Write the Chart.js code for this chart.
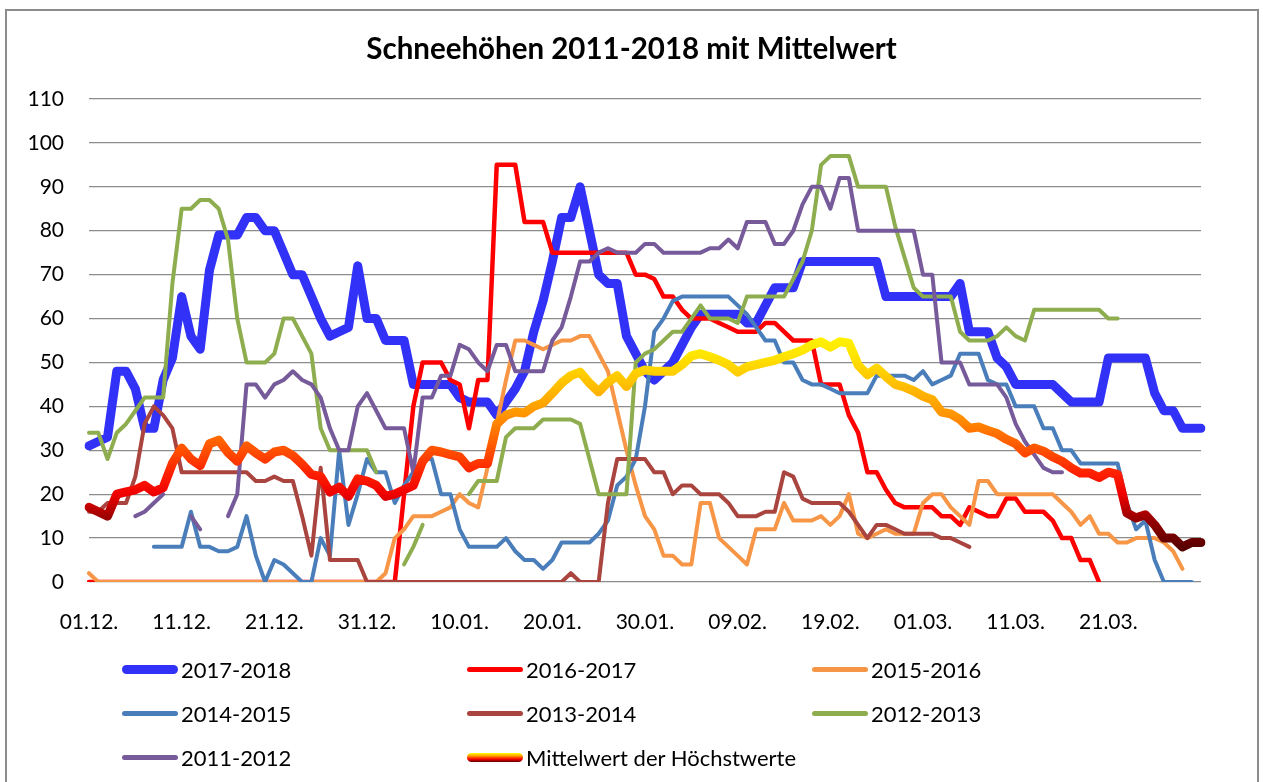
<!DOCTYPE html>
<html>
<head>
<meta charset="utf-8">
<script src="https://cdn.jsdelivr.net/npm/chart.js@4.4.1/dist/chart.umd.min.js"></script>
<style>
  body { margin: 0; background: #fff; font-family: Lato, "Open Sans", sans-serif; }
  #frame { position: absolute; left: 5px; top: 9px; width: 1250px; height: 800px; border: 2px solid #8c8c8c; border-bottom: none; }
  #title { position: absolute; left: 0; top: 30px; width: 1263px; text-align: center; font: bold 29.5px Lato, sans-serif; color: #000; }
  #chart { position: absolute; left: 0; top: 0; }
  .item { position: absolute; height: 24px; display: flex; align-items: center; font: 22px Lato, sans-serif; color: #000; }
  .swatch { width: 56px; border-radius: 5px; margin-right: 3px; }
</style>
</head>
<body>
<div id="frame"></div>
<canvas id="chart" width="1263" height="782"></canvas>
<div id="title">Schneehöhen 2011-2018 mit Mittelwert</div>
<div id="legend"></div>
<script>
// Tage 01.12. - 31.03.
const monthDays = [['12', 31], ['01', 31], ['02', 28], ['03', 31]];
const days = [];
monthDays.forEach(([m, n]) => {
    for (let d = 1; d <= n; d++) days.push(String(d).padStart(2, '0') + '.' + m + '.');
});
const tickLabels = ['01.12.', '11.12.', '21.12.', '31.12.', '10.01.', '20.01.', '30.01.', '09.02.', '19.02.', '01.03.', '11.03.', '21.03.'];

const s2017 = [31, 32, 33, 48, 48, 44, 35, 35, 46, 51, 65, 56, 53, 71, 79, 79, 79, 83, 83, 80,
    80, 75, 70, 70, 65, 60, 56, 57, 58, 72, 60, 60, 55, 55, 55, 45, 45, 45, 45, 45,
    42, 41, 41, 41, 38, 41, 44, 48, 57, 64, 73, 83, 83, 90, 80, 70, 68, 68, 56, 52,
    48, 46, 48, 50, 54, 58, 61, 61, 61, 61, 61, 59, 59, 63, 67, 67, 67, 73, 73, 73,
    73, 73, 73, 73, 73, 73, 65, 65, 65, 65, 65, 65, 65, 65, 68, 57, 57, 57, 51, 49,
    45, 45, 45, 45, 45, 43, 41, 41, 41, 41, 51, 51, 51, 51, 51, 43, 39, 39, 35, 35, 35];
const s2016 = [0, 0, 0, 0, 0, 0, 0, 0, 0, 0, 0, 0, 0, 0, 0, 0, 0, 0, 0, 0,
    0, 0, 0, 0, 0, 0, 0, 0, 0, 0, 0, 0, 0, 0, 20, 40, 50, 50, 50, 46,
    45, 35, 46, 46, 95, 95, 95, 82, 82, 82, 75, 75, 75, 75, 75, 75, 75, 75, 75, 70,
    70, 69, 65, 65, 62, 60, 60, 60, 59, 58, 57, 57, 57, 59, 59, 57, 55, 55, 55, 45,
    45, 45, 38, 34, 25, 25, 21, 18, 17, 17, 17, 17, 15, 15, 13, 17, 16, 15, 15, 19,
    19, 16, 16, 16, 14, 10, 10, 5, 5, 0, null, null, null, null, null, null, null, null, null, null, null];
const s2015 = [2, 0, 0, 0, 0, 0, 0, 0, 0, 0, 0, 0, 0, 0, 0, 0, 0, 0, 0, 0,
    0, 0, 0, 0, 0, 0, 0, 0, 0, 0, 0, 0, 2, 10, 12, 15, 15, 15, 16, 17,
    20, 18, 17, 26, 36, 46, 55, 55, 54, 53, 54, 55, 55, 56, 56, 52, 48, 39, 30, 22,
    15, 12, 6, 6, 4, 4, 18, 18, 10, 8, 6, 4, 12, 12, 12, 18, 14, 14, 14, 15,
    13, 15, 20, 11, 10, 11, 12, 11, 11, 11, 18, 20, 20, 17, 15, 13, 23, 23, 20, 20,
    20, 20, 20, 20, 20, 18, 16, 13, 15, 11, 11, 9, 9, 10, 10, 10, 9, 7, 3, null, null];
const s2014 = [null, null, null, null, null, null, null, 8, 8, 8, 8, 16, 8, 8, 7, 7, 8, 15, 6, 0,
    5, 4, 2, 0, 0, 10, 6, 30, 13, 20, 28, 25, 25, 18, 22, 25, 28, 28, 20, 20,
    12, 8, 8, 8, 8, 10, 7, 5, 5, 3, 5, 9, 9, 9, 9, 11, 14, 22, 24, 28,
    40, 57, 60, 64, 65, 65, 65, 65, 65, 65, 63, 61, 58, 55, 55, 50, 50, 46, 45, 45,
    44, 43, 43, 43, 43, 47, 47, 47, 47, 46, 48, 45, 46, 47, 52, 52, 52, 46, 45, 45,
    40, 40, 40, 35, 35, 30, 30, 27, 27, 27, 27, 27, 18, 12, 14, 5, 0, 0, 0, 0, null];
const s2013 = [16, 16, 18, 18, 18, 24, 36, 40, 38, 35, 25, 25, 25, 25, 25, 25, 25, 25, 23, 23,
    24, 23, 23, 15, 6, 26, 5, 5, 5, 5, 0, 0, 0, 0, 0, 0, 0, 0, 0, 0,
    0, 0, 0, 0, 0, 0, 0, 0, 0, 0, 0, 0, 2, 0, 0, 0, 18, 28, 28, 28,
    28, 25, 25, 20, 22, 22, 20, 20, 20, 18, 15, 15, 15, 16, 16, 25, 24, 19, 18, 18,
    18, 18, 16, 13, 10, 13, 13, 12, 11, 11, 11, 11, 10, 10, 9, 8, null, null, null, null,
    null, null, null, null, null, null, null, null, null, null, null, null, null, null, null, null, null, null, null, null, null];
const s2012 = [34, 34, 28, 34, 36, 39, 42, 42, 42, 68, 85, 85, 87, 87, 85, 78, 60, 50, 50, 50,
    52, 60, 60, 56, 52, 35, 30, 30, 30, 30, 30, 25, null, null, 4, 8, 13, null, null, null,
    null, 20, 23, 23, 23, 33, 35, 35, 35, 37, 37, 37, 37, 36, 28, 20, 20, 20, 20, 50,
    52, 53, 55, 57, 57, 60, 63, 60, 60, 60, 59, 65, 65, 65, 65, 65, 69, 73, 80, 95,
    97, 97, 97, 90, 90, 90, 90, 81, 74, 67, 65, 65, 65, 65, 57, 55, 55, 55, 56, 58,
    56, 55, 62, 62, 62, 62, 62, 62, 62, 62, 60, 60, null, null, null, null, null, null, null, null, null];
const s2011 = [null, null, null, null, null, 15, 16, 18, 20, null, null, 15, 12, null, null, 15, 20, 45, 45, 42,
    45, 46, 48, 46, 45, 42, 35, 30, 30, 40, 43, 39, 35, 35, 35, 25, 42, 42, 47, 47,
    54, 53, 50, 48, 54, 54, 48, 48, 48, 48, 55, 58, 65, 73, 73, 75, 76, 75, 75, 75,
    77, 77, 75, 75, 75, 75, 75, 76, 76, 78, 76, 82, 82, 82, 77, 77, 80, 86, 90, 90,
    85, 92, 92, 80, 80, 80, 80, 80, 80, 80, 70, 70, 50, 50, 50, 45, 45, 45, 45, 42,
    36, 32, 29, 26, 25, 25, null, null, null, null, null, null, null, null, null, null, null, null, null, null, null];
const mittelwert = [17, 16, 15, 20, 20.5, 21, 22, 20.5, 21.5, 27, 30.5, 28, 26.5, 31.5, 32.3, 29.5, 27.5, 31, 29.4, 28,
    29.6, 30, 28.8, 26.8, 24.5, 24, 20.5, 21.6, 19.5, 23.5, 23, 22, 19.5, 20, 21, 22, 27.5, 30, 29.6, 29,
    28.5, 26, 27, 27, 36, 38, 38.7, 38.5, 40, 40.8, 43, 45.3, 47, 47.8, 45.3, 43.3, 45.5, 47, 44.5, 47.5,
    48.3, 48, 48, 48, 49.5, 51.5, 52, 51.3, 50.5, 49.5, 47.8, 49, 49.5, 50, 50.5, 51.3, 52, 52.8, 54, 54.7,
    53.5, 54.7, 54.4, 49.4, 47.2, 48.7, 46.8, 45, 44.4, 43.5, 42.3, 41.5, 38.7, 38.3, 37, 35, 35.3, 34.5, 33.8, 32.5,
    31.5, 29.4, 30.5, 29.8, 28.5, 27.5, 26, 24.8, 24.8, 23.8, 25, 24.5, 15.7, 14.6, 15.3, 13, 10, 10, 8, 9, 9];

const seriesNames = ['2017-2018', '2016-2017', '2015-2016', '2014-2015', '2013-2014', '2012-2013', '2011-2012', 'Mittelwert der Höchstwerte'];
const seriesData = [s2017, s2016, s2015, s2014, s2013, s2012, s2011, mittelwert];
const seriesColors = ['#3131f7', '#ff0000', '#f79646', '#4a7ebb', '#a9443f', '#8ead4f', '#765a9a', null];
const seriesWidths = [9, 4.5, 4, 4, 4, 4, 4, 9];

// Farbverlauf nach Schneehöhe für die Mittelwert-Linie
function meanGradient(context) {
    const chart = context.chart;
    if (!chart.chartArea) return '#ff3000';
    const y = chart.scales.y;
    const g = chart.ctx.createLinearGradient(0, y.getPixelForValue(0), 0, y.getPixelForValue(60));
    g.addColorStop(0, '#3a0000');
    g.addColorStop(8 / 60, '#5a0000');
    g.addColorStop(15 / 60, '#a00000');
    g.addColorStop(20 / 60, '#f00000');
    g.addColorStop(25 / 60, '#ff2200');
    g.addColorStop(30 / 60, '#ff5000');
    g.addColorStop(38 / 60, '#ff9400');
    g.addColorStop(45 / 60, '#ffc000');
    g.addColorStop(52 / 60, '#ffe600');
    g.addColorStop(1, '#ffff00');
    return g;
}

const datasets = seriesNames.map((name, i) => ({
    label: name,
    data: seriesData[i],
    borderColor: seriesColors[i] || meanGradient,
    borderWidth: seriesWidths[i],
    pointRadius: 0,
    tension: 0,
    fill: false,
    spanGaps: false,
    borderJoinStyle: 'round',
    borderCapStyle: 'round',
    order: seriesNames.length - i
}));

const ctx = document.getElementById('chart').getContext('2d');
new Chart(ctx, {
    type: 'line',
    data: { labels: days, datasets: datasets },
    options: {
        responsive: false,
        animation: false,
        layout: { padding: { left: 0, right: 62, top: 99, bottom: 0 } },
        scales: {
            x: {
                grid: { display: false },
                border: { display: false },
                afterFit: (scale) => { scale.height = 200; },
                ticks: {
                    autoSkip: false,
                    maxRotation: 0,
                    padding: 20,
                    color: '#000',
                    font: { family: 'Lato', size: 21 },
                    callback: (val, i) => tickLabels.includes(days[i]) ? days[i] : ''
                }
            },
            y: {
                min: 0,
                max: 110,
                afterFit: (scale) => { scale.width = 89; },
                grid: { color: '#8c8c8c', lineWidth: 1.3, drawTicks: false },
                border: { display: false },
                ticks: {
                    stepSize: 10,
                    padding: 25,
                    color: '#000',
                    font: { family: 'Lato', size: 21 }
                }
            }
        },
        plugins: {
            legend: { display: false },
            tooltip: { enabled: false }
        }
    }
});

// Legende in drei Spalten
const legendCols = [122, 467, 812];
const legendRows = [669, 713, 757];
const legend = document.getElementById('legend');
seriesNames.forEach((name, i) => {
    const item = document.createElement('div');
    item.className = 'item';
    item.style.left = legendCols[i % 3] + 'px';
    item.style.top = (legendRows[Math.floor(i / 3)] - 12) + 'px';
    const sw = document.createElement('div');
    sw.className = 'swatch';
    sw.style.height = (seriesWidths[i] > 5 ? 9 : 5) + 'px';
    sw.style.background = seriesColors[i] || 'linear-gradient(to bottom, #ffff00, #ff9900, #ff0000, #600000)';
    const txt = document.createElement('span');
    txt.textContent = name;
    item.appendChild(sw);
    item.appendChild(txt);
    legend.appendChild(item);
});
</script>
</body>
</html>
